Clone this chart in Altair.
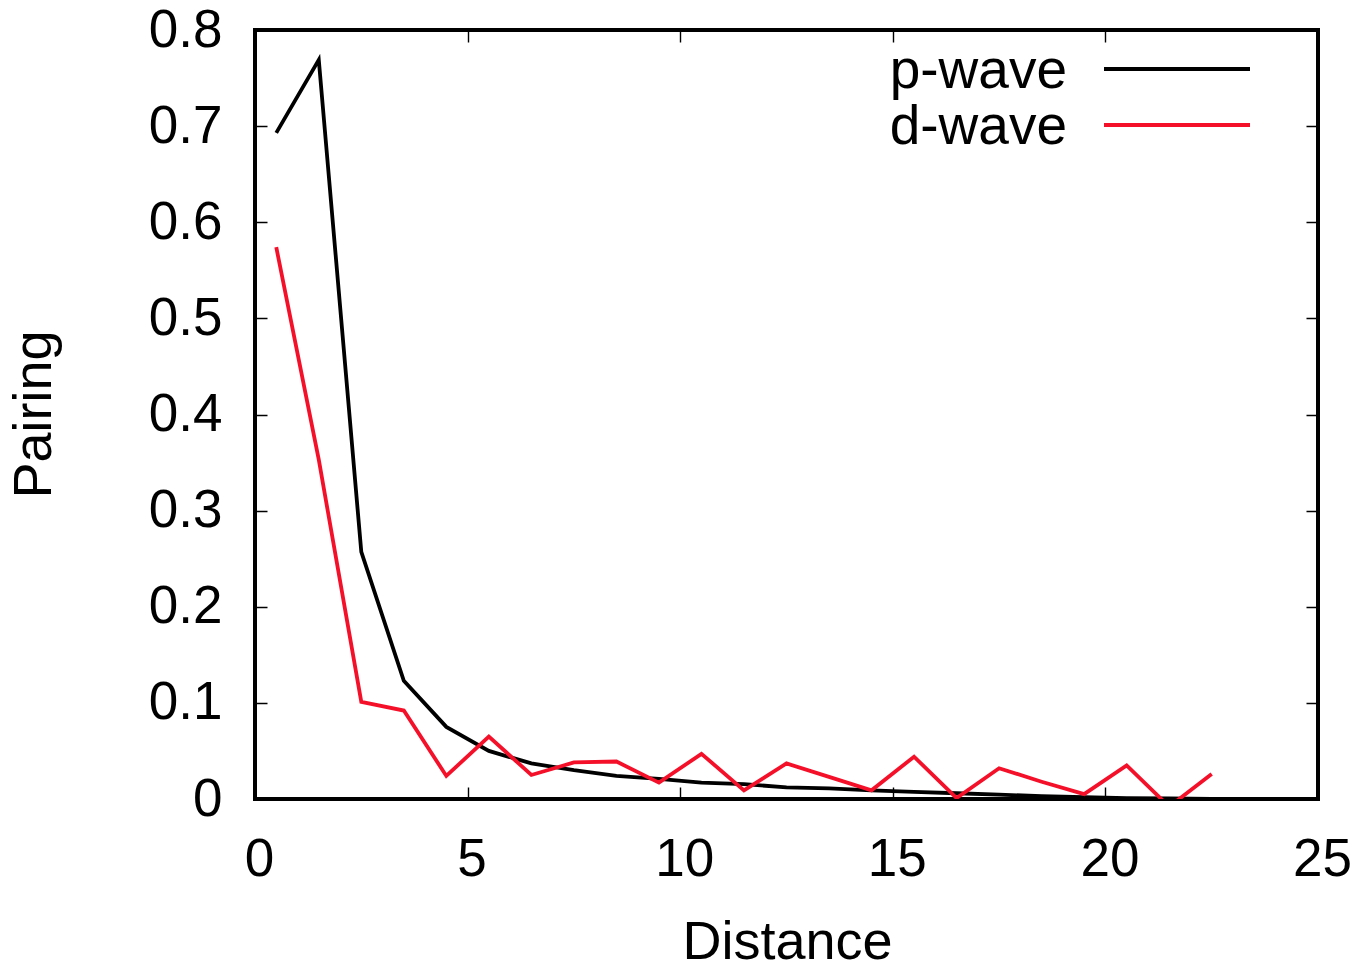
import altair as alt
import pandas as pd

distance = [0.5, 1.5, 2.5, 3.5, 4.5, 5.5, 6.5, 7.5, 8.5, 9.5, 10.5, 11.5,
            12.5, 13.5, 14.5, 15.5, 16.5, 17.5, 18.5, 19.5, 20.5, 21.5, 22.5]
p_wave = [0.693, 0.769, 0.257, 0.123, 0.075, 0.050, 0.037, 0.030, 0.024, 0.021,
          0.017, 0.0155, 0.012, 0.011, 0.009, 0.0075, 0.006, 0.0045, 0.003,
          0.002, 0.001, 0.0005, 0.0]
d_wave = [0.574, 0.353, 0.101, 0.092, 0.024, 0.065, 0.025, 0.038, 0.039, 0.017,
          0.047, 0.009, 0.037, 0.023, 0.009, 0.044, 0.001, 0.032, 0.018, 0.005,
          0.035, -0.008, 0.026]
series_names = ["p-wave", "d-wave"]
series_colors = ["#000000", "#f5102a"]
x_ticks = [0, 5, 10, 15, 20, 25]
y_ticks = [0, 0.1, 0.2, 0.3, 0.4, 0.5, 0.6, 0.7, 0.8]

rows = []
for name, vals in zip(series_names, [p_wave, d_wave]):
    for d, v in zip(distance, vals):
        rows.append({"Distance": d, "Pairing": v, "series": name})
df = pd.DataFrame(rows)

W, H = 1063, 769
FONT = "Liberation Sans"
FS = 53
TFS = 54
LFS = 55
TL = 12
LW = 3.8

color_scale = alt.Scale(domain=series_names, range=series_colors)

lines = alt.Chart(df).mark_line(clip=True, strokeWidth=LW).encode(
    x=alt.X("Distance:Q",
            scale=alt.Scale(domain=[0, 25], nice=False, zero=False),
            axis=alt.Axis(values=x_ticks, title="Distance", format="~g",
                          ticks=False, tickSize=0, domain=False,
                          labelPadding=76, labelBaseline="alphabetic",
                          labelOffset=4, labelFontSize=FS, labelFont=FONT,
                          labelColor="black", labelFlush=False,
                          grid=True, gridColor="black", gridWidth=1.4,
                          gridOpacity=1,
                          gridDash=[TL, H - 2 * TL, TL, 3000],
                          titleFont=FONT, titleFontSize=TFS,
                          titleFontWeight="normal", titleColor="black",
                          titleX=532, titleY=159, titleAlign="center",
                          titleBaseline="alphabetic")),
    y=alt.Y("Pairing:Q",
            scale=alt.Scale(domain=[0, 0.8], nice=False),
            axis=alt.Axis(values=y_ticks, title="Pairing", format="~g",
                          ticks=False, tickSize=0, domain=False,
                          labelPadding=33, labelBaseline="middle",
                          labelAlign="right", labelFontSize=FS,
                          labelFont=FONT, labelColor="black", labelFlush=False,
                          grid=True, gridColor="black", gridWidth=1.4,
                          gridOpacity=1,
                          gridDash=[TL, W - 2 * TL, TL, 3000],
                          titleFont=FONT, titleFontSize=TFS,
                          titleFontWeight="normal", titleColor="black",
                          titleAngle=270, titleX=-205, titleY=384,
                          titleAlign="center", titleBaseline="alphabetic")),
    color=alt.Color("series:N", scale=color_scale, legend=None),
    order=alt.Order("series_order:Q"),
).transform_calculate(
    series_order="datum.series == 'p-wave' ? 0 : 1"
)

legend_base = alt.Chart(pd.DataFrame({"series": series_names})).transform_window(
    idx="row_number()"
).transform_calculate(
    ly="39 + 56 * (datum.idx - 1)",
    ty="58 + 56 * (datum.idx - 1)",
)

legend_rules = legend_base.mark_rule(strokeWidth=LW).encode(
    x=alt.value(849), x2=alt.value(995),
    y=alt.Y("ly:Q", scale=None, axis=None),
    color=alt.Color("series:N", scale=color_scale, legend=None),
)

legend_text = legend_base.mark_text(
    align="right", baseline="alphabetic", fontSize=LFS, font=FONT,
    color="black"
).encode(
    x=alt.value(812),
    y=alt.Y("ty:Q", scale=None, axis=None),
    text="series:N",
)

chart = alt.layer(lines, legend_rules, legend_text).properties(
    width=W, height=H,
    autosize=alt.AutoSizeParams(type="none"),
    padding={"left": 247, "top": 22, "right": 34, "bottom": 163},
    background="white",
).configure_view(
    stroke="black", strokeWidth=4
)

chart.save("out.html", embed_options={"renderer": "svg", "actions": False})
